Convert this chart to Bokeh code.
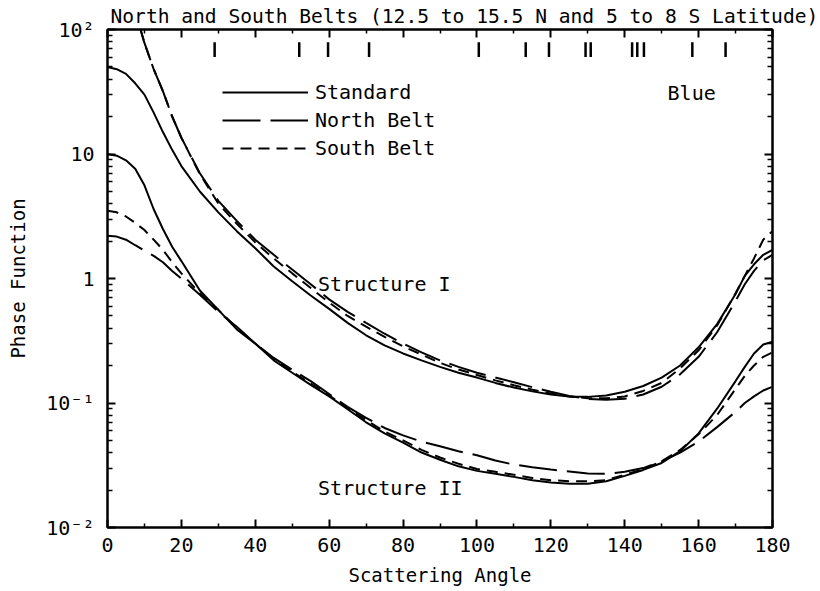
from bokeh.plotting import figure
from bokeh.models import (Range1d, LinearAxis, LogAxis, FixedTicker, Title,
                          CustomJSTickFormatter, Label, Legend, LegendItem)
from bokeh.embed import file_html
from bokeh.resources import INLINE

# ---------------- data ----------------
ANGLES = [0, 2.5, 5, 7.5, 10, 12.5, 15, 17.5, 20, 25, 30, 35, 40, 45, 50, 55, 60, 65,
          70, 75, 80, 85, 90, 95, 100, 105, 110, 115, 120, 125, 130, 135, 140, 145,
          150, 155, 160, 165, 170, 172.5, 175, 177.5, 180]
ANGLES_BELTS_I = ANGLES[2:]

STANDARD_I = [50, 48, 44, 37, 30, 21.5, 15, 10.8, 8.0, 5.0, 3.4, 2.4, 1.75, 1.25, 0.95,
              0.73, 0.57, 0.44, 0.35, 0.29, 0.25, 0.22, 0.195, 0.175, 0.16, 0.145,
              0.133, 0.124, 0.117, 0.113, 0.112, 0.115, 0.123, 0.137, 0.16, 0.2, 0.28,
              0.43, 0.75, 1.05, 1.3, 1.55, 1.7]
NORTH_I = [260, 140, 78, 48, 32, 20, 13.5, 7.0, 4.2, 2.9, 2.05, 1.55, 1.18, 0.9, 0.68,
           0.54, 0.44, 0.36, 0.3, 0.255, 0.22, 0.195, 0.175, 0.16, 0.147, 0.134,
           0.123, 0.114, 0.108, 0.106, 0.108, 0.117, 0.135, 0.17, 0.235, 0.37, 0.66,
           0.9, 1.15, 1.4, 1.55]
SOUTH_I = [260, 140, 78, 48, 32, 20, 13.5, 6.9, 4.0, 2.75, 1.95, 1.45, 1.1, 0.84, 0.64,
           0.5, 0.41, 0.34, 0.285, 0.245, 0.21, 0.186, 0.168, 0.152, 0.139, 0.128,
           0.119, 0.113, 0.109, 0.109, 0.113, 0.125, 0.145, 0.19, 0.265, 0.42, 0.76,
           1.05, 1.45, 2.05, 2.4]

STANDARD_II = [10, 9.7, 8.9, 7.6, 5.6, 3.6, 2.5, 1.8, 1.38, 0.8, 0.56, 0.39, 0.3, 0.22,
               0.175, 0.14, 0.113, 0.089, 0.07, 0.057, 0.048, 0.04, 0.035, 0.031,
               0.0285, 0.027, 0.0255, 0.024, 0.023, 0.0225, 0.0225, 0.0235, 0.026,
               0.029, 0.033, 0.041, 0.057, 0.09, 0.15, 0.195, 0.25, 0.295, 0.31]
NORTH_II = [2.2, 2.17, 2.05, 1.85, 1.68, 1.52, 1.35, 1.15, 1.0, 0.74, 0.54, 0.41, 0.3,
            0.23, 0.185, 0.15, 0.118, 0.093, 0.076, 0.063, 0.055, 0.049, 0.045, 0.041,
            0.038, 0.0345, 0.032, 0.0305, 0.0292, 0.0282, 0.0272, 0.027, 0.028, 0.030,
            0.034, 0.04, 0.049, 0.064, 0.085, 0.1, 0.113, 0.126, 0.135]
SOUTH_II = [3.5, 3.4, 3.15, 2.8, 2.45, 2.05, 1.7, 1.35, 1.1, 0.76, 0.56, 0.4, 0.3, 0.225,
            0.178, 0.143, 0.115, 0.091, 0.073, 0.059, 0.05, 0.042, 0.0365, 0.0325,
            0.0295, 0.028, 0.0265, 0.025, 0.024, 0.0235, 0.0235, 0.024, 0.0265, 0.0295,
            0.034, 0.042, 0.056, 0.08, 0.13, 0.165, 0.2, 0.235, 0.255]

OBS_ANGLES = [29.0, 51.9, 59.7, 70.8, 100.5, 113.2, 119.5, 129.4, 130.8, 142.0, 143.4,
              145.2, 158.3, 167.3]

X_TICKS = [0, 20, 40, 60, 80, 100, 120, 140, 160, 180]
X_TICK_LABELS = ["0", "20", "40", "60", "80", "100", "120", "140", "160", "180"]
Y_TICKS = [0.01, 0.1, 1, 10, 100]
Y_TICK_LABELS = ["10\u207b\u00b2", "10\u207b\u00b9", "1", "10", "10\u00b2"]

TITLE = "North and South Belts (12.5 to 15.5 N and 5 to 8 S Latitude)"
SERIES_NAMES = ["Standard", "North Belt", "South Belt"]

# ---------------- styling ----------------
FONT = "DejaVu Sans Mono"
LW = 2
DASH_NORTH = "38 10"
DASH_SOUTH = "11 7"

p = figure(width=820, height=591, x_range=Range1d(0, 180), y_range=Range1d(0.01, 100),
           y_axis_type="log", output_backend="svg", toolbar_location=None,
           min_border_left=107, min_border_right=48, min_border_top=29,
           min_border_bottom=64)
p.grid.visible = False
p.outline_line_color = "black"
p.outline_line_width = 2
p.background_fill_color = "white"
p.border_fill_color = "white"

p.title = Title(text=TITLE, align="left", offset=3, standoff=3,
                text_font=FONT, text_font_size="19.6px", text_font_style="normal",
                text_color="black")

x_minor = [t + 10 for t in X_TICKS[:-1]]
y_minor = [m * t for t in Y_TICKS[:-1] for m in range(2, 10)]


def fmt(tick_values, labels):
    return CustomJSTickFormatter(args=dict(tv=tick_values, tl=labels), code="""
        for (let i = 0; i < tv.length; i++) {
            if (Math.abs(tv[i] - tick) <= 1e-6 * Math.max(Math.abs(tick), 1e-9)) return tl[i];
        }
        return '';
    """)


def style(ax, minor_len):
    ax.axis_line_width = 2
    ax.axis_line_color = "black"
    ax.major_tick_in = 8
    ax.major_tick_out = 0
    ax.minor_tick_in = minor_len
    ax.minor_tick_out = 0
    ax.major_tick_line_width = 2
    ax.minor_tick_line_width = 1.5
    ax.major_tick_line_color = "black"
    ax.minor_tick_line_color = "black"
    ax.major_label_text_font = FONT
    ax.major_label_text_font_size = "20px"
    ax.major_label_text_color = "black"
    ax.axis_label_text_font = FONT
    ax.axis_label_text_font_style = "normal"
    ax.axis_label_text_font_size = "19px"
    ax.axis_label_text_color = "black"


# bottom axis
xb = p.xaxis[0]
xb.ticker = FixedTicker(ticks=X_TICKS, minor_ticks=x_minor)
xb.formatter = fmt(X_TICKS, X_TICK_LABELS)
style(xb, 4)
xb.major_label_standoff = 10
xb.axis_label = "Scattering Angle"
xb.axis_label_standoff = 9

# left axis
yl = p.yaxis[0]
yl.ticker = FixedTicker(ticks=Y_TICKS, minor_ticks=y_minor)
yl.formatter = fmt(Y_TICKS, Y_TICK_LABELS)
style(yl, 5)
yl.major_label_standoff = 13
yl.axis_label = "Phase Function"
yl.axis_label_standoff = 14

# top axis (ticks only)
xt = LinearAxis(ticker=FixedTicker(ticks=X_TICKS, minor_ticks=x_minor),
                formatter=CustomJSTickFormatter(code="return '';"))
style(xt, 4)
xt.major_label_text_font_size = "1px"
xt.major_label_standoff = 0
p.add_layout(xt, "above")

# right axis (ticks only)
yr = LogAxis(ticker=FixedTicker(ticks=Y_TICKS, minor_ticks=y_minor),
             formatter=CustomJSTickFormatter(code="return '';"))
style(yr, 5)
yr.major_label_text_font_size = "1px"
yr.major_label_standoff = 0
p.add_layout(yr, "right")

# curves
r_std = p.line(ANGLES, STANDARD_I, line_width=LW, line_color="black")
r_nor = p.line(ANGLES_BELTS_I, NORTH_I, line_width=LW, line_color="black",
               line_dash=DASH_NORTH)
r_sou = p.line(ANGLES_BELTS_I, SOUTH_I, line_width=LW, line_color="black",
               line_dash=DASH_SOUTH)
p.line(ANGLES, STANDARD_II, line_width=LW, line_color="black")
p.line(ANGLES, NORTH_II, line_width=LW, line_color="black", line_dash=DASH_NORTH)
p.line(ANGLES, SOUTH_II, line_width=LW, line_color="black", line_dash=DASH_SOUTH)

# observation angle markers near the top
p.segment(x0=OBS_ANGLES, y0=[60] * len(OBS_ANGLES), x1=OBS_ANGLES,
          y1=[79] * len(OBS_ANGLES), line_width=2.5, line_color="black")

# legend
legend = Legend(items=[LegendItem(label=SERIES_NAMES[0], renderers=[r_std]),
                       LegendItem(label=SERIES_NAMES[1], renderers=[r_nor]),
                       LegendItem(label=SERIES_NAMES[2], renderers=[r_sou])],
                location=(115, 365), orientation="vertical",
                border_line_color=None, background_fill_alpha=0,
                padding=0, margin=0, spacing=0,
                glyph_width=86, glyph_height=28, label_height=28, label_standoff=7,
                label_text_font=FONT, label_text_font_size="20px",
                label_text_color="black")
p.add_layout(legend)


# texts
def add_label(x, y, text, size="20px", **kw):
    p.add_layout(Label(x=x, y=y, text=text, text_font=FONT, text_font_size=size,
                       text_color="black", **kw))


add_label(57, 0.91, "Structure I", text_baseline="middle", text_align="left")
add_label(57, 0.0206, "Structure II", text_baseline="middle", text_align="left")
add_label(151.6, 31, "Blue", text_baseline="middle", text_align="left")

open("out.html", "w").write(file_html(p, INLINE))
